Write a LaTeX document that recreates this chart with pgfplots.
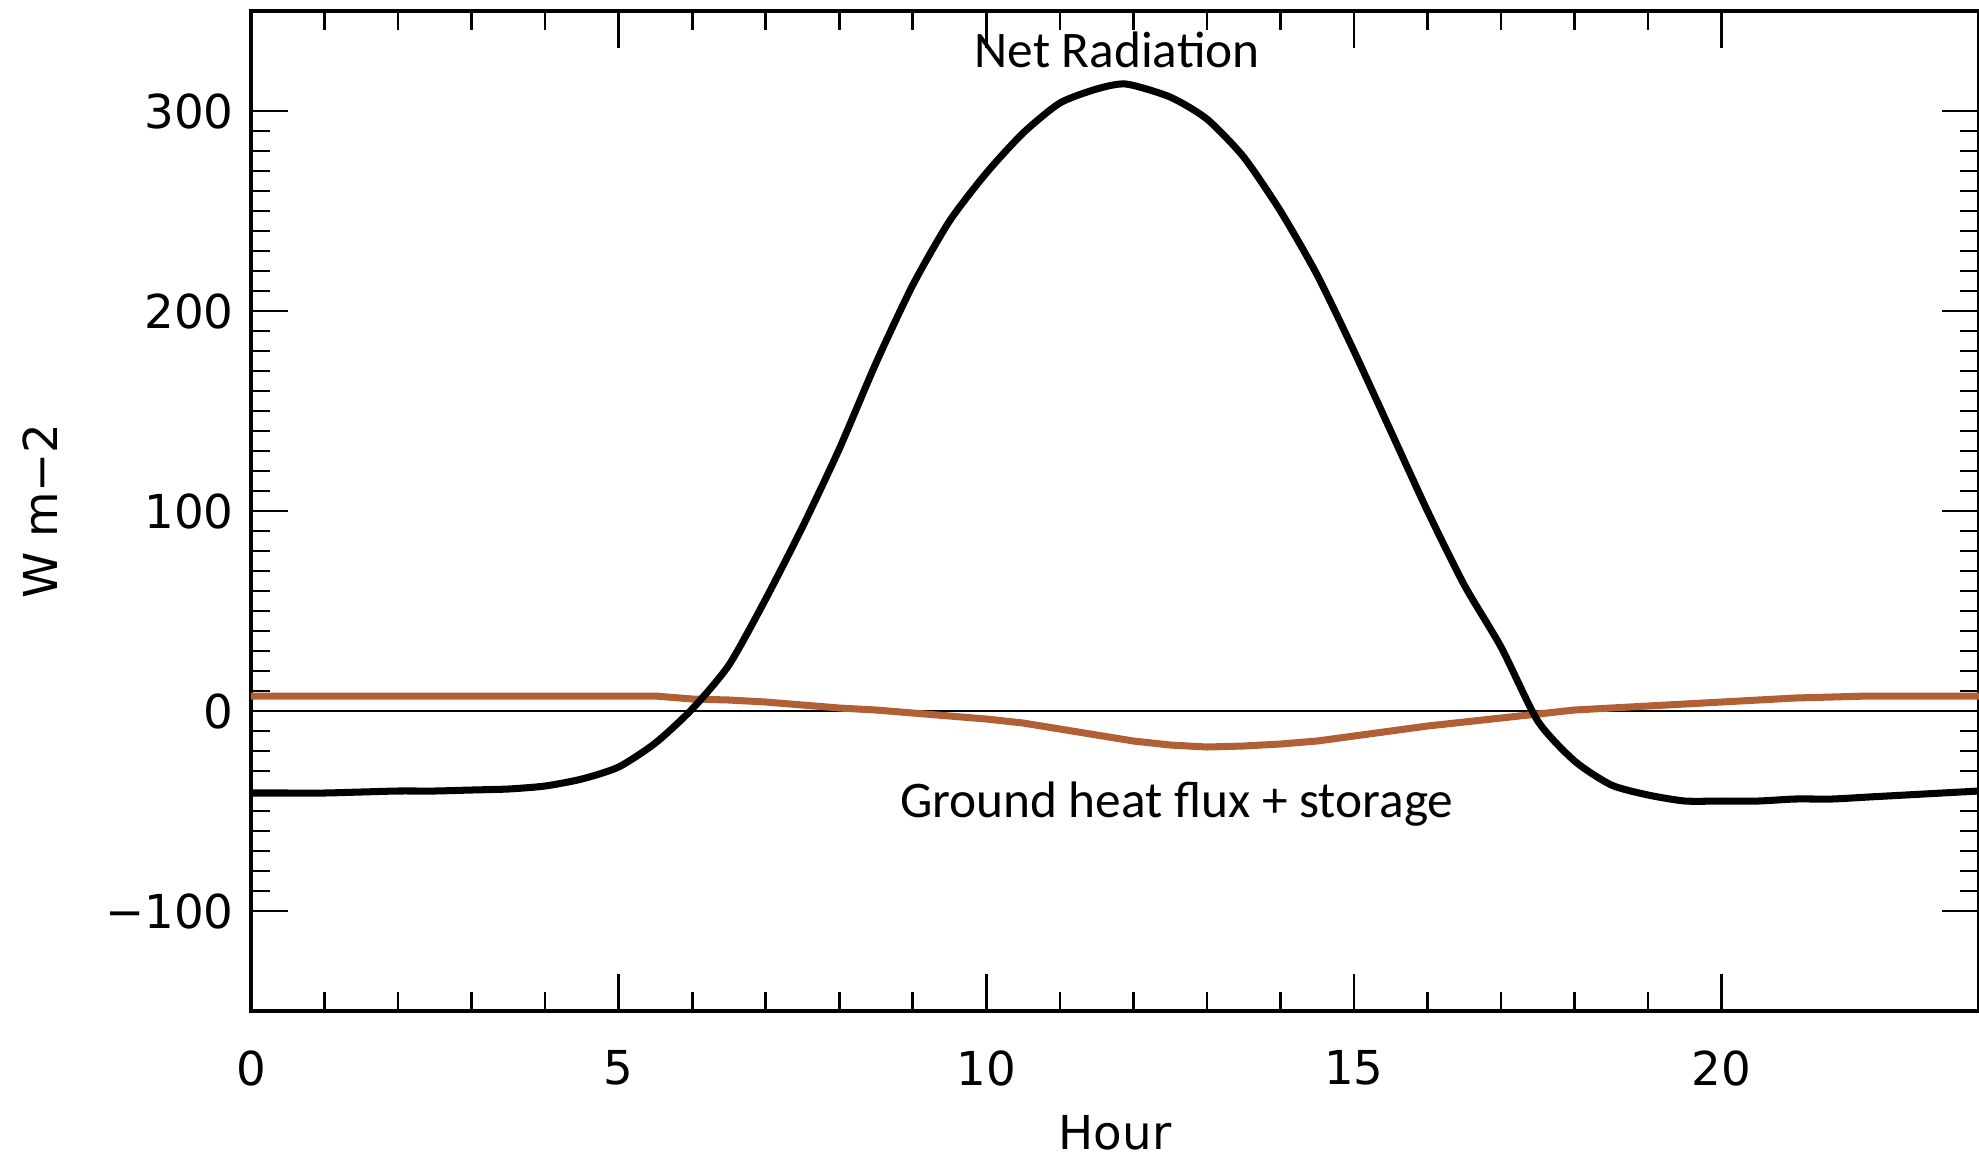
\documentclass[border=0pt]{standalone}
\usepackage{fontspec}
\setmainfont{DejaVu Sans}
\newfontfamily\calibri{Carlito}
\usepackage{pgfplots}
\pgfplotsset{compat=1.18}
\definecolor{gflux}{RGB}{176,96,52}

\pgfplotstableread{
h rn
0 -41
0.5 -41
1 -41
1.5 -40.5
2 -40
2.5 -40
3 -39.5
3.5 -39
4 -37.5
4.5 -34
5 -28
5.5 -16
6 1
6.5 23
7 56
7.5 92
8 131
8.5 174
9 213
9.5 245
10 269
10.5 289
11 304
11.5 311
11.9 313.5
12.5 307
13 296
13.5 277
14 250
14.5 218
15 180
15.5 140
16 100
16.5 63
17 32
17.5 -5
18 -25
18.5 -37
19 -42
19.5 -45
20 -45
20.5 -45
21 -44
21.5 -44
22 -43
22.5 -42
23 -41
23.5 -40
}\rntab

\pgfplotstableread{
h g
0 7.5
5.5 7.5
6 6
6.5 5.5
7 4.5
7.5 3
8 1.5
8.5 0.5
9 -1
9.5 -2.5
10 -4
10.5 -6
11 -9
11.5 -12
12 -15
12.5 -17
13 -18
13.5 -17.5
14 -16.5
14.5 -15
15 -12.5
15.5 -10
16 -7.5
16.5 -5.5
17 -3.5
17.5 -1.5
18 0.5
18.5 1.5
19 2.5
19.5 3.5
20 4.5
20.5 5.5
21 6.5
21.5 7
22 7.5
23.5 7.5
}\gtab

\begin{document}
\begin{tikzpicture}
\useasboundingbox (-2.51cm,-1.48cm) rectangle (17.28cm,10.11cm);
\begin{axis}[
  scale only axis,
  width=17.28cm, height=10cm,
  xmin=0, xmax=23.5, ymin=-150, ymax=350,
  xtick={0,5,10,15,20},
  xticklabels={0,5,10,15,20},
  ytick={-100,0,100,200,300},
  yticklabels={−100,0,100,200,300},
  minor x tick num=4,
  minor y tick num=9,
  tick align=inside,
  major tick length=0.37cm,
  minor tick length=0.19cm,
  every tick/.style={black, line width=0.75pt},
  axis line style={line width=0.9pt},
  tick label style={font=\fontsize{13.3}{16}\selectfont},
  xticklabel style={yshift=-0.27cm},
  yticklabel style={xshift=-0.05cm},
  label style={font=\fontsize{13.3}{16}\selectfont},
  xlabel={Hour},
  xlabel style={at={(axis description cs:0.5,-0.122)}, anchor=center},
  ylabel={W m−2},
  ylabel style={at={(axis description cs:-0.1221,0.5)}, anchor=center},
  clip=true,
]
\addplot[black, line width=0.6pt] coordinates {(0,0) (23.5,0)};
\addplot[gflux, line width=2pt] table[x=h, y=g] {\gtab};
\addplot[black, line width=2pt, smooth, tension=0.4] table[x=h, y=rn] {\rntab};
\node[font=\calibri\fontsize{14.6}{17}\selectfont] at (axis cs:11.78,330.5) {Net Radiation};
\node[font=\calibri\fontsize{14.6}{17}\selectfont] at (axis cs:12.59,-46.5) {Ground heat flux + storage};
\end{axis}
\end{tikzpicture}
\end{document}
